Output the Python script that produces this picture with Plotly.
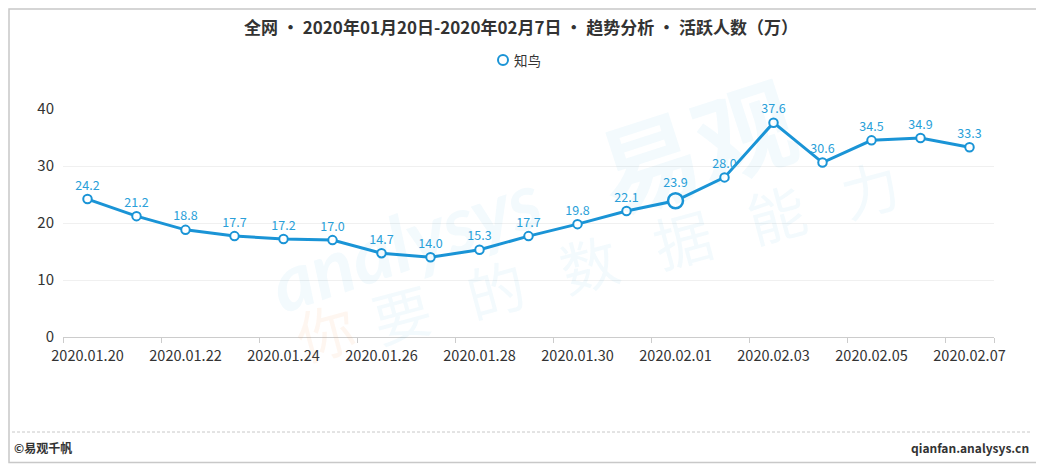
import plotly.graph_objects as go

dates = ["2020.01.20", "2020.01.21", "2020.01.22", "2020.01.23", "2020.01.24",
         "2020.01.25", "2020.01.26", "2020.01.27", "2020.01.28", "2020.01.29",
         "2020.01.30", "2020.01.31", "2020.02.01", "2020.02.02", "2020.02.03",
         "2020.02.04", "2020.02.05", "2020.02.06", "2020.02.07"]
values = [24.2, 21.2, 18.8, 17.7, 17.2, 17.0, 14.7, 14.0, 15.3, 17.7,
          19.8, 22.1, 23.9, 28.0, 37.6, 30.6, 34.5, 34.9, 33.3]
series_name = "知鸟"
highlight_date = "2020.02.01"
y_ticks = [0, 10, 20, 30, 40]

# page offset (browser body margin) -> figure is drawn 8px in from the page corner
OFF = 8
W, H = 1044 - OFF, 467 - OFF
L, R, T, B = 63, 994, 109, 337          # plot area in page pixels
BLUE = "#1a94d6"
LABEL_BLUE = "#2a9fd9"
FONT = "Noto Sans CJK SC"

def px(x):
    return (x - L) / (R - L)

def py(y):
    return (B - y) / (B - T)

xi = list(range(len(dates)))
sizes = [15 if d == highlight_date else 8.5 for d in dates]
mlw = [2.5 if d == highlight_date else 2 for d in dates]

fig = go.Figure()
fig.add_trace(go.Scatter(
    x=xi, y=values, mode="lines+markers+text",
    text=[f"{v:.1f}" for v in values], textposition="top center",
    textfont=dict(color=LABEL_BLUE, size=12.5, family=FONT),
    line=dict(color=BLUE, width=3),
    marker=dict(size=sizes, color="#ffffff", opacity=1, line=dict(color=BLUE, width=mlw)),
    showlegend=False, hoverinfo="skip", cliponaxis=False,
))

wm_blue = "rgba(26,148,214,0.05)"
annotations = [
    dict(text="你", x=px(325), y=py(330), xref="paper", yref="paper", xanchor="center", yanchor="middle",
         showarrow=False, textangle=-15, font=dict(size=58, color="rgba(245,140,60,0.08)", family=FONT)),
    dict(text="要   的   数   据   能   力", x=px(635), y=py(250), xref="paper", yref="paper",
         xanchor="center", yanchor="middle",
         showarrow=False, textangle=-15, font=dict(size=58, color=wm_blue, family=FONT)),
    dict(text="<i>analysys</i>", x=px(405), y=py(240), xref="paper", yref="paper",
         xanchor="center", yanchor="middle",
         showarrow=False, textangle=-19, font=dict(size=78, color=wm_blue, family="Lato", weight="bold")),
    dict(text="易观", x=px(695), y=py(142), xref="paper", yref="paper", xanchor="center", yanchor="middle",
         showarrow=False, textangle=-18, font=dict(size=100, color=wm_blue, family=FONT, weight="bold")),
    dict(text=series_name, x=px(512), y=py(60), xref="paper", yref="paper",
         xanchor="left", yanchor="middle", showarrow=False,
         font=dict(size=13.5, color="#333333", family=FONT)),
    dict(text="©易观千帆", x=px(12), y=py(447), xref="paper", yref="paper",
         xanchor="left", yanchor="middle", showarrow=False,
         font=dict(size=12, color="#333333", family=FONT, weight="bold")),
    dict(text="qianfan.analysys.cn", x=px(1031), y=py(447), xref="paper", yref="paper",
         xanchor="right", yanchor="middle", showarrow=False,
         font=dict(size=12, color="#333333", family=FONT, weight="bold")),
]

shapes = [
    dict(type="circle", xref="paper", yref="paper", x0=px(498), x1=px(508), y0=py(65), y1=py(55),
         line=dict(color=BLUE, width=2), fillcolor="white"),
    dict(type="line", xref="paper", yref="paper", x0=px(12), x1=px(1030), y0=py(432), y1=py(432),
         line=dict(color="#c8c8c8", width=1, dash="3px,2px")),
    dict(type="rect", xref="paper", yref="paper", x0=px(9), x1=px(1039.5), y0=py(9), y1=py(462.5),
         line=dict(color="#c8c8c8", width=1.5)),
]

fig.update_layout(
    width=W, height=H,
    margin=dict(l=L - OFF, r=(W + OFF) - R, t=T - OFF, b=(H + OFF) - B),
    paper_bgcolor="white", plot_bgcolor="white",
    font=dict(family=FONT, color="#333333"),
    showlegend=False,
    title=dict(text="全网 • 2020年01月20日-2020年02月7日 • 趋势分析 • 活跃人数（万）",
               x=(521 - OFF) / W, xref="container", xanchor="center",
               y=1 - (28 - OFF) / H, yref="container", yanchor="middle",
               font=dict(size=17, color="#333333", family=FONT, weight="bold")),
    xaxis=dict(range=[-0.5, len(dates) - 0.5], tickmode="array",
               tickvals=xi[::2], ticktext=dates[::2],
               ticks="", showgrid=False, zeroline=False,
               showline=True, linecolor="#cccccc", linewidth=1,
               ticklabelstandoff=6,
               tickfont=dict(size=14.5, color="#333333", family=FONT),
               minor=dict(tickmode="array", tickvals=[i - 0.5 for i in xi[::2]] + [len(dates) - 0.5],
                          ticks="outside", ticklen=5, tickcolor="#cccccc", showgrid=False)),
    yaxis=dict(range=[0, 40], tickmode="array", tickvals=y_ticks,
               showgrid=True, gridcolor="#f0f0f0", zeroline=False,
               showline=False, ticks="", ticklabelstandoff=8,
               tickfont=dict(size=15, color="#333333", family=FONT)),
    annotations=annotations, shapes=shapes,
)

fig.write_html("out.html")
